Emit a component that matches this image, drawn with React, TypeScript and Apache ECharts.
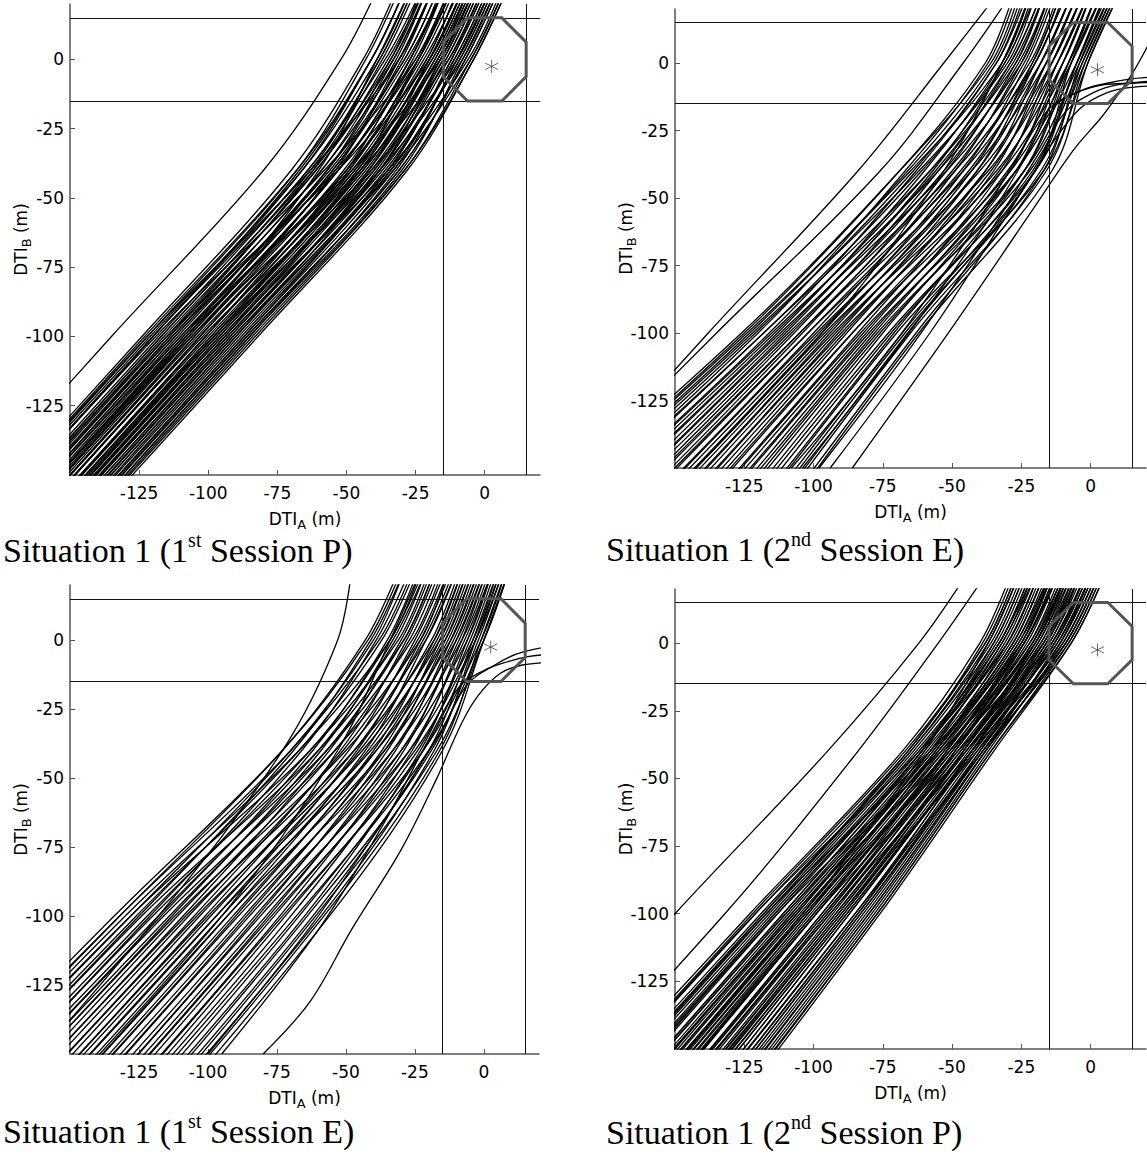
import React, { useEffect, useRef } from "react";
import * as echarts from "echarts";

// DTI_B heights (m) at which each trajectory's DTI_A position (m) is listed.
const LEVELS = [-200, -100, -40, 0, 25];

const AXIS_MIN = -150;
const AXIS_MAX = 20;
const X_TICKS = [-125, -100, -75, -50, -25, 0];
const Y_TICKS = [-125, -100, -75, -50, -25, 0];
const ZONE = [-15, 15];
const OCTAGON = [
  [-6.2, 15], [6.2, 15], [15, 6.2], [15, -6.2], [6.2, -15],
  [-6.2, -15], [-15, -6.2], [-15, 6.2], [-6.2, 15],
];
const TARGET = [[2.5, -2.5]];

// Situation 1, 1st session P
const S1_P_TRACKS = [
  [-225, -135, -80, -52, -39],
  [-215, -124, -70, -44, -32], [-214, -123, -68, -41, -29], [-213, -122, -68, -43, -31],
  [-212, -121, -66, -39, -27], [-211, -120, -66, -41, -29], [-210, -120, -64, -38, -26],
  [-209, -118, -64, -36, -23], [-208, -117, -63, -38, -26], [-207, -116, -61, -35, -22],
  [-206, -115, -61, -33, -21], [-205, -114, -59, -34, -23], [-204, -113, -59, -31, -19],
  [-202, -112, -57, -32, -21], [-202, -111, -57, -29, -17], [-200, -110, -55, -30, -19],
  [-200, -109, -55, -28, -15], [-198, -108, -53, -27, -16], [-197, -107, -53, -25, -13],
  [-196, -106, -51, -26, -15], [-195, -105, -50, -23, -11], [-194, -103, -49, -24, -12],
  [-193, -103, -48, -22, -9], [-192, -101, -47, -21, -10], [-191, -101, -46, -19, -7],
  [-190, -99, -45, -20, -8], [-189, -98, -44, -18, -6], [-188, -97, -43, -17, -5],
  [-187, -96, -42, -17, -6], [-186, -95, -41, -15, -3], [-185, -94, -40, -16, -4],
  [-184, -93, -38, -13, -1], [-183, -92, -38, -14, -2], [-181, -91, -36, -11, 1],
  [-180, -90, -35, -12, 0], [-179, -88, -34, -9, 3], [-178, -87, -33, -10, 2],
  [-176, -86, -31, -7, 5], [-175, -85, -30, -8, 4], [-174, -83, -29, -5, 7],
  [-173, -82, -28, -4, 8],
  [-213, -122, -63, -31, -19], [-211, -120, -67, -41, -29], [-210, -119, -58, -25, -13],
  [-207, -117, -62, -34, -22], [-206, -115, -53, -20, -8], [-204, -114, -62, -37, -25],
  [-203, -113, -54, -24, -12], [-202, -112, -56, -29, -17], [-201, -110, -48, -16, -4],
  [-200, -109, -57, -33, -21], [-199, -108, -50, -21, -10], [-198, -107, -53, -27, -15],
  [-197, -106, -45, -13, -1], [-196, -105, -54, -31, -19], [-195, -104, -47, -19, -7],
  [-194, -103, -49, -24, -12], [-193, -102, -41, -10, 2], [-192, -101, -50, -27, -15],
  [-191, -100, -44, -17, -5], [-190, -99, -45, -20, -8], [-189, -98, -38, -8, 4],
  [-188, -98, -46, -24, -12], [-187, -97, -40, -14, -2], [-186, -96, -42, -18, -6],
  [-185, -95, -35, -6, 6], [-185, -94, -42, -20, -8], [-184, -93, -37, -11, 1],
  [-183, -92, -39, -15, -3], [-181, -91, -33, -5, 7], [-181, -90, -38, -16, -4],
  [-179, -89, -34, -9, 3], [-178, -87, -35, -12, 0], [-177, -86, -31, -7, 5],
  [-175, -85, -32, -10, 2], [-174, -84, -29, -4, 8], [-198, -108, -60, -39, -27],
];

// Situation 1, 2nd session E
const S2_E_TRACKS = [
  [-226, -138, -84, -53, -34], [-232, -135, -76, -46, -29],
  [-236, -126, -69, -36, -26], [-234, -125, -69, -38, -28], [-233, -124, -65, -32, -22],
  [-231, -123, -66, -35, -25], [-229, -122, -62, -30, -20], [-228, -121, -64, -34, -23],
  [-226, -120, -67, -37, -27], [-224, -118, -58, -27, -17], [-223, -118, -61, -31, -21],
  [-221, -116, -63, -34, -24], [-219, -115, -55, -25, -15], [-218, -114, -58, -29, -18],
  [-216, -113, -60, -32, -22], [-214, -112, -52, -22, -12], [-212, -111, -56, -28, -17],
  [-210, -110, -57, -31, -20], [-208, -109, -49, -20, -10], [-207, -108, -53, -26, -15],
  [-205, -107, -55, -29, -18], [-203, -105, -46, -18, -7], [-202, -105, -50, -24, -14],
  [-200, -104, -52, -27, -17], [-198, -102, -43, -16, -5], [-197, -102, -47, -21, -11],
  [-195, -100, -49, -25, -15], [-193, -99, -40, -14, -3], [-192, -98, -44, -20, -9],
  [-190, -97, -46, -23, -13], [-188, -96, -37, -12, -1], [-187, -95, -41, -18, -7],
  [-185, -94, -43, -21, -11], [-183, -93, -34, -10, 0], [-182, -92, -38, -16, -5],
  [-180, -91, -41, -20, -9], [-178, -90, -32, -8, 2], [-177, -89, -36, -14, -3],
  [-175, -88, -38, -18, -7], [-173, -86, -29, -7, 4], [-172, -86, -33, -12, -1],
  [-170, -84, -35, -16, -5], [-168, -83, -27, -5, 5], [-167, -82, -30, -10, 0],
  [-165, -81, -32, -14, -3], [-163, -80, -24, -4, 7], [-161, -79, -27, -8, 2],
  [-160, -78, -29, -12, -1], [-157, -77, -22, -3, 8], [-156, -76, -24, -7, 4],
  [-154, -75, -27, -10, 0], [-152, -73, -20, -2, 9], [-150, -72, -21, -5, 6],
  [-148, -71, -24, -8, 2], [-146, -70, -17, -1, 10], [-144, -68, -20, -5, 5],
  [-142, -67, -18, -3, 8], [-140, -66, -20, -7, 4], [-138, -65, -16, -2, 9],
  [-136, -63, -17, -4, 7], [-134, -62, -14, -1, 10], [-190, -97, -53, -32, -22],
];
// trajectories that turn right and leave through the east side
const S2_E_CURLS = [
  [[-104, -150], [-70, -106], [-42, -66], [-24, -36], [-13, -16], [-3, -10], [6, -7.5], [14, -6], [25, -5]],
  [[-98, -150], [-64, -104], [-36, -62], [-19, -34], [-9, -18], [1, -11], [10, -8], [25, -6.5]],
  [[-108, -150], [-74, -108], [-45, -66], [-27, -36], [-15, -17], [-5, -11], [5, -8], [15, -7.5], [25, -7]],
  [[-94, -150], [-58, -100], [-30, -56], [-14, -30], [-4, -17], [6, -11], [15, -9], [25, -8.5]],
  [[-86, -150], [-50, -98], [-22, -56], [-6, -32], [4, -20], [9, -13], [15, -4], [21, 7]],
];

// Situation 1, 1st session E
const S1_E_TRACKS = [
  [-205, -118, -73, -53, -48],
  [-232, -134, -73, -42, -30], [-230, -132, -70, -38, -26], [-229, -132, -73, -43, -31],
  [-227, -130, -67, -34, -23], [-226, -128, -70, -40, -29], [-225, -128, -63, -31, -20],
  [-223, -126, -67, -37, -25], [-221, -125, -69, -41, -29], [-220, -124, -60, -29, -18],
  [-218, -122, -63, -34, -22], [-216, -121, -66, -39, -27], [-215, -120, -57, -26, -15],
  [-214, -118, -60, -32, -21], [-212, -117, -62, -35, -24], [-211, -116, -54, -23, -13],
  [-209, -114, -57, -29, -18], [-207, -113, -59, -33, -21], [-206, -112, -50, -21, -10],
  [-204, -111, -54, -27, -16], [-203, -109, -56, -30, -19], [-202, -108, -47, -18, -8],
  [-200, -107, -51, -24, -13], [-198, -105, -52, -28, -17], [-197, -104, -44, -16, -6],
  [-195, -103, -47, -22, -11], [-193, -101, -49, -25, -14], [-192, -100, -41, -14, -4],
  [-191, -99, -45, -19, -9], [-189, -97, -46, -23, -12], [-188, -97, -39, -12, -2],
  [-186, -95, -42, -17, -7], [-184, -93, -43, -21, -10], [-183, -93, -36, -10, 0],
  [-181, -91, -39, -15, -5], [-180, -90, -40, -18, -8], [-179, -89, -33, -8, 2],
  [-177, -87, -36, -13, -3], [-175, -86, -37, -16, -6], [-174, -85, -30, -6, 3],
  [-172, -83, -33, -11, -1], [-170, -82, -35, -14, -4], [-169, -81, -27, -4, 5],
  [-168, -79, -30, -9, 1], [-166, -78, -32, -12, -2], [-165, -77, -25, -3, 7],
  [-163, -76, -27, -7, 3], [-161, -74, -29, -10, 0], [-160, -73, -22, -1, 8],
  [-158, -72, -24, -5, 4], [-157, -70, -26, -8, 1], [-155, -68, -20, 0, 9],
  [-153, -67, -22, -3, 6], [-151, -65, -23, -6, 3], [-149, -64, -19, -2, 7],
  [-147, -62, -20, -4, 5], [-145, -61, -17, 0, 9], [-144, -59, -18, -3, 6],
  [-142, -58, -16, -1, 8], [-140, -56, -15, 0, 9], [-186, -95, -53, -34, -23],
];
const S1_E_CURLS = [
  [[-80, -150], [-63, -131], [-48, -105], [-30, -76], [-17, -50], [-8, -30], [-2, -20], [6, -12], [14, -9], [25, -8]],
  [[-95, -150], [-60, -105], [-36, -66], [-20, -36], [-9, -17], [0, -11], [8, -8], [16, -6], [25, -5]],
  [[-100, -150], [-63, -104], [-34, -62], [-16, -34], [-6, -16], [4, -9], [12, -5], [25, -2]],
];

// Situation 1, 2nd session P
const S2_P_TRACKS = [
  [-238, -150, -95, -62, -45], [-222, -132, -84, -55, -38],
  [-213, -123, -68, -40, -29], [-211, -122, -67, -38, -27], [-210, -121, -66, -39, -28],
  [-208, -119, -65, -36, -25], [-207, -118, -65, -37, -26], [-205, -117, -64, -35, -24],
  [-204, -116, -63, -33, -22], [-202, -115, -62, -34, -23], [-200, -114, -61, -32, -21],
  [-199, -113, -61, -33, -22], [-197, -111, -60, -30, -19], [-196, -110, -59, -31, -20],
  [-194, -109, -58, -29, -18], [-193, -108, -57, -28, -17], [-191, -107, -56, -27, -16],
  [-190, -106, -56, -28, -17], [-188, -104, -55, -26, -14], [-186, -103, -54, -25, -15],
  [-185, -102, -53, -24, -13], [-183, -101, -52, -25, -14], [-181, -100, -51, -22, -11],
  [-180, -99, -51, -23, -12], [-178, -97, -50, -21, -9], [-177, -96, -49, -21, -10],
  [-175, -95, -48, -19, -8], [-174, -94, -47, -20, -9], [-172, -92, -46, -17, -6],
  [-171, -91, -46, -18, -7], [-169, -90, -45, -16, -4], [-168, -89, -44, -16, -5],
  [-166, -88, -43, -14, -2], [-164, -87, -43, -15, -3], [-163, -85, -42, -13, -1],
  [-161, -84, -41, -13, -2], [-159, -83, -40, -11, 1], [-157, -81, -39, -11, 0],
  [-155, -80, -38, -9, 3], [-153, -78, -37, -10, 2], [-151, -77, -36, -8, 4],
  [-150, -76, -35, -7, 5],
  [-210, -121, -62, -30, -19], [-207, -118, -66, -38, -27], [-205, -117, -58, -25, -14],
  [-202, -114, -61, -33, -21], [-199, -113, -54, -20, -9], [-197, -111, -61, -35, -24],
  [-195, -110, -55, -24, -12], [-193, -108, -57, -28, -17], [-192, -107, -51, -17, -5],
  [-190, -106, -58, -32, -20], [-189, -105, -53, -22, -10], [-187, -104, -55, -27, -15],
  [-186, -103, -48, -14, -2], [-185, -102, -56, -30, -19], [-183, -100, -50, -20, -8],
  [-181, -99, -52, -24, -13], [-180, -99, -45, -12, 0], [-178, -97, -52, -26, -15],
  [-177, -96, -47, -18, -6], [-176, -95, -49, -21, -9], [-175, -94, -43, -10, 2],
  [-173, -93, -49, -24, -12], [-171, -92, -45, -15, -4], [-170, -91, -46, -19, -7],
  [-169, -90, -41, -9, 3], [-168, -89, -46, -20, -9], [-166, -88, -42, -13, -1],
  [-164, -87, -43, -16, -4], [-163, -85, -39, -8, 4], [-161, -84, -43, -17, -5],
  [-159, -83, -39, -11, 1], [-158, -82, -40, -14, -2], [-156, -80, -38, -9, 3],
  [-154, -79, -38, -12, 0], [-152, -77, -36, -7, 5], [-188, -104, -60, -37, -26],
];

const CAPTION_ORDINALS = ["1", "2", "1", "2"];
const CAPTION_SUFFIXES = ["st", "nd", "st", "nd"];
const CAPTION_SESSIONS = ["P", "E", "E", "P"];

const SANS = "DejaVu Sans";
const SERIF = "Liberation Serif";
const STAR = "path://M10 0 L10 20 M1.34 5 L18.66 15 M1.34 15 L18.66 5";

const PANELS = [
  { grid: { left: 70, top: 4, width: 470, height: 471 }, tracks: S1_P_TRACKS, curls: [] as number[][][], capX: 3, capY: 550 },
  { grid: { left: 675, top: 9, width: 471, height: 459 }, tracks: S2_E_TRACKS, curls: S2_E_CURLS, capX: 606, capY: 549 },
  { grid: { left: 70, top: 585, width: 469, height: 469 }, tracks: S1_E_TRACKS, curls: S1_E_CURLS, capX: 3, capY: 1131 },
  { grid: { left: 675, top: 589, width: 471, height: 460 }, tracks: S2_P_TRACKS, curls: [] as number[][][], capX: 606, capY: 1132 },
];

function axisNameRich() {
  return {
    m: { fontFamily: SANS, fontSize: 17, color: "#000", lineHeight: 24, verticalAlign: "middle" },
    s: { fontFamily: SANS, fontSize: 13, color: "#000", lineHeight: 13, verticalAlign: "bottom" },
  };
}

function buildOption() {
  const series: any[] = [];
  PANELS.forEach((p, i) => {
    const base = { xAxisIndex: i, yAxisIndex: i, silent: true, symbol: "none", emphasis: { disabled: true } };
    const trackStyle = { color: "#000", width: 1.3 };
    p.tracks.forEach((t) => {
      series.push({
        ...base,
        type: "line",
        data: LEVELS.map((y, k) => [t[k], y]),
        smooth: 0.35,
        clip: true,
        lineStyle: trackStyle,
        z: 2,
      });
    });
    p.curls.forEach((c) => {
      series.push({ ...base, type: "line", data: c, smooth: 0.35, clip: true, lineStyle: trackStyle, z: 2 });
    });
    series.push({
      ...base,
      type: "line",
      data: [],
      z: 3,
      markLine: {
        silent: true,
        symbol: "none",
        label: { show: false },
        emphasis: { disabled: true },
        lineStyle: { color: "#111", width: 1, type: "solid" },
        data: [...ZONE.map((v) => ({ yAxis: v })), ...ZONE.map((v) => ({ xAxis: v }))],
      },
    });
    series.push({
      ...base,
      type: "line",
      data: OCTAGON,
      clip: false,
      lineStyle: { color: "#555", width: 3, join: "miter" },
      z: 10,
    });
    series.push({
      ...base,
      type: "scatter",
      data: TARGET,
      symbol: STAR,
      symbolSize: 13,
      itemStyle: { color: "transparent", borderColor: "#444", borderWidth: 1 },
      z: 11,
    });
  });

  return {
    animation: false,
    backgroundColor: "#fff",
    grid: PANELS.map((p) => ({ ...p.grid, containLabel: false })),
    xAxis: PANELS.map((_, i) => ({
      gridIndex: i,
      type: "value",
      min: AXIS_MIN,
      max: AXIS_MAX,
      interval: 25,
      splitLine: { show: false },
      axisLine: { onZero: false, lineStyle: { color: "#555", width: 1.5 } },
      axisTick: { inside: true, length: 5, customValues: X_TICKS, lineStyle: { color: "#555", width: 1 } },
      axisLabel: { customValues: X_TICKS, fontFamily: SANS, fontSize: 17, color: "#000", margin: 9 },
      name: "{m|DTI}{s|A}{m| (m)}",
      nameLocation: "middle",
      nameGap: 32,
      nameMoveOverlap: false,
      nameTextStyle: { rich: axisNameRich() },
    })),
    yAxis: PANELS.map((_, i) => ({
      gridIndex: i,
      type: "value",
      min: AXIS_MIN,
      max: AXIS_MAX,
      interval: 25,
      splitLine: { show: false },
      axisLine: { onZero: false, lineStyle: { color: "#555", width: 1.5 } },
      axisTick: { inside: true, length: 5, customValues: Y_TICKS, lineStyle: { color: "#555", width: 1 } },
      axisLabel: { customValues: Y_TICKS, fontFamily: SANS, fontSize: 17, color: "#000", margin: 6 },
      name: "{m|DTI}{s|B}{m| (m)}",
      nameLocation: "middle",
      nameRotate: 90,
      nameGap: 37,
      nameMoveOverlap: false,
      nameTextStyle: { rich: axisNameRich() },
    })),
    graphic: PANELS.map((p, i) => ({
      type: "text",
      x: p.capX,
      y: p.capY,
      silent: true,
      style: {
        text: `{n|Situation 1 (${CAPTION_ORDINALS[i]}}{u|${CAPTION_SUFFIXES[i]}}{n| Session ${CAPTION_SESSIONS[i]})}`,
        verticalAlign: "middle",
        align: "left",
        rich: {
          n: { fontFamily: SERIF, fontSize: 34, fill: "#000", lineHeight: 40 },
          u: { fontFamily: SERIF, fontSize: 20, fill: "#000", lineHeight: 32, verticalAlign: "top" },
        },
      },
    })),
    series,
  };
}

export default function App() {
  const ref = useRef<HTMLDivElement>(null);
  useEffect(() => {
    if (!ref.current) return;
    const chart = echarts.init(ref.current, null, { renderer: "svg" });
    chart.setOption(buildOption() as any);
    return () => chart.dispose();
  }, []);
  return (
    <div
      ref={ref}
      style={{ position: "absolute", left: 0, top: 0, width: 1147, height: 1156, background: "#fff" }}
    />
  );
}
